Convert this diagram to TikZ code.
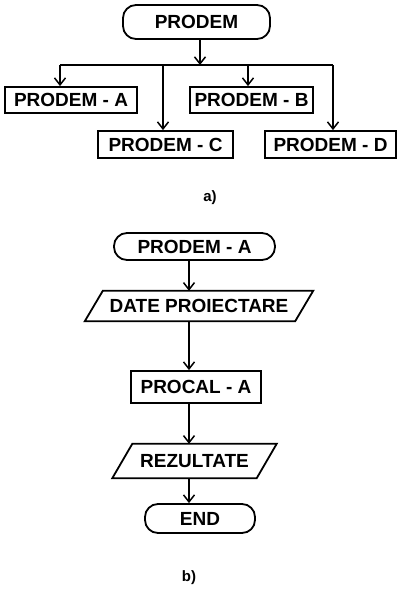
\documentclass[tikz,border=0pt]{standalone}
\usepackage{fontspec}
\setmainfont{Liberation Sans}
\usetikzlibrary{arrows.meta}

\tikzset{
  every node/.style={font=\fontsize{19}{21}\selectfont\bfseries, inner sep=0pt},
  ln/.style={line width=1.8pt},
  arr/.style={ln, -{Straight Barb[length=7pt,width=11pt,line width=1.5pt]}},
  procbox/.style={draw, ln, rectangle},
  termbox/.style={draw, ln, rectangle, rounded corners=13pt},
  iobox/.style={rectangle},
  caption/.style={font=\fontsize{15}{17}\selectfont\bfseries}
}

\begin{document}
\begin{tikzpicture}[x=1pt, y=-1pt]
\useasboundingbox (0,0) rectangle (397,595);

% ---------- a) module hierarchy ----------
\node[termbox, minimum width=147pt, minimum height=34pt] (prodem) at (196.5,22) {PRODEM};
\node[procbox, minimum width=132pt, minimum height=26pt] (pa) at (71,100) {PRODEM - A};
\node[procbox, minimum width=123pt, minimum height=26pt] (pb) at (251.5,100) {PRODEM - B};
\node[procbox, minimum width=135pt, minimum height=27pt] (pc) at (165.5,144.5) {PRODEM - C};
\node[procbox, minimum width=131pt, minimum height=27pt] (pd) at (330.5,144.5) {PRODEM - D};

\coordinate (bus) at (200,65);
\coordinate (ja) at (60,65);
\coordinate (jc) at (163,65);
\coordinate (jb) at (248,65);
\coordinate (jd) at (333,65);

\draw[arr] (prodem.south -| bus) -- (bus);
\draw[ln] (ja) -- (jd);
\draw[arr] (ja) -- (ja |- pa.north);
\draw[arr] (jc) -- (jc |- pc.north);
\draw[arr] (jb) -- (jb |- pb.north);
\draw[arr] (jd) -- (jd |- pd.north);

\node[caption] (capa) at (210,198) {a)};

% ---------- b) flowchart of PRODEM - A ----------
\coordinate (spine) at (189,0);

\node[termbox, minimum width=161pt, minimum height=27pt] (start) at (194.5,246.5) {PRODEM - A};

\node[iobox, minimum width=210pt, minimum height=30pt] (data) at (199,306) {DATE PROIECTARE};
\draw[ln] ([xshift=-9pt]data.south west) -- ([xshift=9pt]data.north west)
  -- ([xshift=9pt]data.north east) -- ([xshift=-9pt]data.south east) -- cycle;

\node[procbox, minimum width=130pt, minimum height=32pt] (calc) at (196,387) {PROCAL - A};

\node[iobox, minimum width=144pt, minimum height=34pt] (res) at (194.5,461) {REZULTATE};
\draw[ln] ([xshift=-10pt]res.south west) -- ([xshift=10pt]res.north west)
  -- ([xshift=10pt]res.north east) -- ([xshift=-10pt]res.south east) -- cycle;

\node[termbox, minimum width=110pt, minimum height=29pt] (stop) at (200,518.5) {END};

\draw[arr] (start.south -| spine) -- (data.north -| spine);
\draw[arr] (data.south -| spine) -- (calc.north -| spine);
\draw[arr] (calc.south -| spine) -- (res.north -| spine);
\draw[arr] (res.south -| spine) -- (stop.north -| spine);

\node[caption] (capb) at (189,578) {b)};
\end{tikzpicture}
\end{document}
